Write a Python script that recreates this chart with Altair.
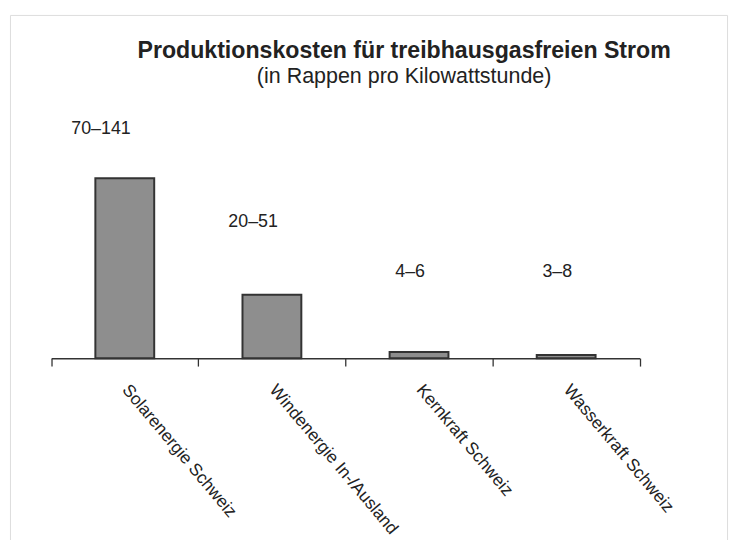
import altair as alt
import pandas as pd

categories = ["Solarenergie Schweiz", "Windenergie In-/Ausland", "Kernkraft Schweiz", "Wasserkraft Schweiz"]
bar_values = [105.5, 37.1, 3.65, 1.9]
range_labels = ["70–141", "20–51", "4–6", "3–8"]
label_levels = [134.5, 79.6, 50.6, 50.6]

df = pd.DataFrame({
    "cat": categories,
    "value": bar_values,
    "label": range_labels,
    "level": label_levels,
})

FONT = "Liberation Sans"

xscale = alt.Scale(domain=categories, range=[41.7, 636.7], paddingInner=0, paddingOuter=0)
yscale = alt.Scale(domain=[0, 105.5], range=[347, 165], nice=False, zero=True)

W, H = 725, 545

base = alt.Chart(df)

bars = base.mark_bar(
    width=alt.RelativeBandSize(0.4),
    fill="#8e8e8e",
    stroke="#333333",
    strokeWidth=2,
).encode(
    x=alt.X("cat:N", scale=xscale, sort=categories,
            axis=alt.Axis(title=None, orient="bottom", offset=347 - H,
                          tickBand="extent", labelAngle=50, labelAlign="left",
                          labelBaseline="top", labelPadding=15, labelOffset=7,
                          labelFontSize=17.5,
                          labelFont=FONT, labelColor="#222222", labelOverlap=False,
                          labelLimit=0, tickSize=8, tickColor="#333333", tickWidth=1.3,
                          domainColor="#333333", domainWidth=1.5, grid=False)),
    y=alt.Y("value:Q", scale=yscale, axis=None),
)

texts = base.mark_text(
    align="right", baseline="middle", dx=6, fontSize=18, font=FONT, color="#222222"
).encode(
    x=alt.X("cat:N", scale=xscale, sort=categories),
    y=alt.Y("level:Q", scale=yscale, axis=None),
    text="label:N",
)

chart = alt.layer(bars, texts).properties(
    width=W,
    height=H,
    padding={"left": 2, "top": 4, "right": 5, "bottom": 0},
    autosize=alt.AutoSizeParams(type="none"),
    title=alt.TitleParams(
        text="Produktionskosten für treibhausgasfreien Strom",
        subtitle="(in Rappen pro Kilowattstunde)",
        anchor="middle",
        orient="top",
        offset=-75,
        dx=36,
        font=FONT,
        fontSize=23.4,
        fontWeight="bold",
        color="#222222",
        subtitleFont=FONT,
        subtitleFontSize=21.7,
        subtitleColor="#222222",
        subtitlePadding=3,
    ),
).configure_view(
    stroke="#aaaaaa",
    strokeWidth=2,
).configure(background="white")

chart.save("out.html", embed_options={"renderer": "svg", "actions": False})
